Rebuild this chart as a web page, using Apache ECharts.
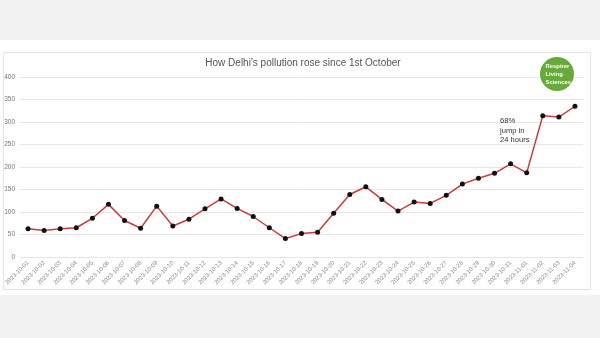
<!DOCTYPE html>
<html><head><meta charset="utf-8">
<script src="https://cdn.jsdelivr.net/npm/echarts@6/dist/echarts.min.js"></script>
<style>html,body{margin:0;padding:0;background:#f2f2f2;}#c{width:600px;height:338px;}</style>
</head><body><div id="c"></div>
<script>
const dates = ['2023-10-01','2023-10-02','2023-10-03','2023-10-04','2023-10-05','2023-10-06','2023-10-07','2023-10-08','2023-10-09','2023-10-10','2023-10-11','2023-10-12','2023-10-13','2023-10-14','2023-10-15','2023-10-16','2023-10-17','2023-10-18','2023-10-19','2023-10-20','2023-10-21','2023-10-22','2023-10-23','2023-10-24','2023-10-25','2023-10-26','2023-10-27','2023-10-28','2023-10-29','2023-10-30','2023-10-31','2023-11-01','2023-11-02','2023-11-03','2023-11-04'];
const pm25 = [63,59,63,65,86,117,81,64,113,69,84,107,129,108,90,65,41,52,55,97,139,156,128,102,122,119,137,162,175,186,207,187,314,311,335];
const titleText = "How Delhi's pollution rose since 1st October";
const noteText = "68%\njump in\n24 hours";
const logoText = "Respirer\nLiving\nSciences";

const chart = echarts.init(document.getElementById('c'));
chart.setOption({
  backgroundColor: '#f2f2f2',
  animation: false,
  title: {
    text: titleText, left: 298, top: 53, textAlign: 'center',
    textStyle: {fontFamily: 'Liberation Sans', fontSize: 10, fontWeight: 'normal', color: '#555'}
  },
  graphic: [
    {type: 'rect', z: -10, shape: {x: 0, y: 40, width: 600, height: 255}, style: {fill: '#ffffff'}},
    {type: 'rect', z: -9, shape: {x: 3.5, y: 52.5, width: 587, height: 237}, style: {fill: '#ffffff', stroke: '#e4e4e4', lineWidth: 1}},
    {type: 'circle', z: 10, shape: {cx: 557, cy: 74, r: 17}, style: {fill: '#68a93c'}},
    {type: 'text', z: 11, left: 545.5, top: 62.5, style: {text: logoText, fill: '#fff', font: 'bold 5.9px "Liberation Sans"', lineHeight: 8}},
    {type: 'text', z: 11, left: 500, top: 116.5, style: {text: noteText, fill: '#333', font: '7.6px "Liberation Sans"', lineHeight: 9.3}}
  ],
  grid: {left: 20, right: 17, top: 77, bottom: 81, containLabel: false},
  xAxis: {
    type: 'category', data: dates, boundaryGap: true,
    axisLine: {show: false}, axisTick: {show: false},
    axisLabel: {rotate: 45, interval: 0, fontSize: 6, color: '#888', margin: 5, fontFamily: 'Liberation Sans'}
  },
  yAxis: {
    type: 'value', min: 0, max: 400, interval: 50,
    axisLine: {show: false}, axisTick: {show: false},
    axisLabel: {fontSize: 6.5, color: '#777', margin: 5, fontFamily: 'Liberation Sans'},
    splitLine: {lineStyle: {color: '#e6e6e6', width: 1}}
  },
  series: [{
    type: 'line', data: pm25,
    symbol: 'circle', symbolSize: 5,
    itemStyle: {color: '#111'},
    lineStyle: {color: '#cc3b3b', width: 1.5}
  }]
});
</script></body></html>
